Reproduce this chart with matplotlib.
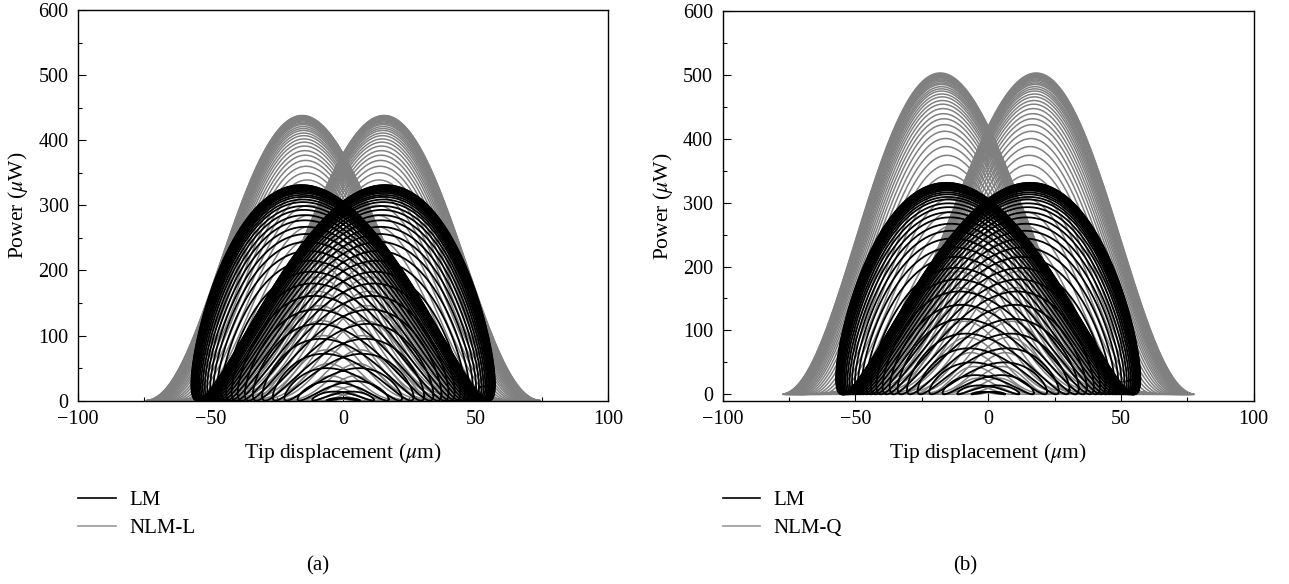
import numpy as np
import matplotlib
matplotlib.use("Agg")
import matplotlib.pyplot as plt
from matplotlib.ticker import MultipleLocator

plt.rcParams["font.family"] = ["Liberation Serif", "DejaVu Serif"]
plt.rcParams["mathtext.fontset"] = "stix"
plt.rcParams["font.size"] = 14.5

# cycle-by-cycle amplitude (um) and peak power (uW) of the start-up transient
lm_amp = [6.3, 11.7, 17.2, 22.2, 26.6, 30.6, 34.1, 37.1, 39.8, 42.1, 44.2, 46.0,
          47.6, 49.0, 50.2, 51.3, 52.2, 53.0, 53.7, 54.3, 54.8, 55.2, 55.5, 55.8,
          56.0, 56.2, 56.4, 56.5, 56.6, 56.7, 56.8, 56.9, 57.0, 57.1, 57.2, 57.3]
lm_peak = [4, 14, 30, 50, 72, 95, 118, 140, 161, 180, 198, 215,
           230, 244, 256, 267, 277, 285, 293, 299, 305, 309, 313, 316,
           319, 321, 323, 324, 325, 326, 327, 328, 329, 330, 331, 331]

nlml_amp = [6.1, 11.2, 16.6, 21.8, 26.7, 31.3, 35.4, 39.3, 42.8, 45.9, 48.8, 51.4,
            53.8, 56.0, 57.9, 59.8, 61.3, 62.7, 64.0, 65.2, 66.2, 67.2, 68.0, 68.7,
            69.4, 70.0, 70.5, 71.0, 71.4, 71.8, 72.1, 72.4, 72.6, 72.9, 73.1, 73.2,
            73.4, 73.5, 73.6, 73.7, 73.8, 73.9, 74.0, 74.1, 74.2, 74.3, 74.4]
nlml_peak = [3, 10, 22, 38, 57, 78, 100, 123, 146, 168, 190, 211,
             231, 250, 268, 285, 300, 314, 327, 339, 350, 360, 369, 377,
             384, 391, 397, 402, 407, 411, 415, 418, 421, 424, 426, 428,
             429.5, 431, 432, 433, 434, 435, 436, 436.5, 437, 437.5, 438]

nlmq_amp = [6.3, 11.7, 17.3, 22.7, 27.8, 32.6, 36.8, 40.9, 44.5, 47.8, 50.8, 53.5,
            56.0, 58.3, 60.2, 62.2, 63.8, 65.2, 66.6, 67.8, 68.9, 69.9, 70.8, 71.5,
            72.2, 72.8, 73.4, 73.9, 74.3, 74.7, 75.0, 75.3, 75.5, 75.9, 76.1, 76.2,
            76.4, 76.5, 76.7, 76.8, 76.9, 77.0, 77.1, 77.2, 77.3, 77.4]
nlmq_peak = [3.4, 11.4, 25.2, 43.5, 65.2, 89.2, 114.4, 140.7, 167.0, 192.2, 217.4, 241.4,
             264.3, 286.0, 306.6, 326.0, 343.2, 359.2, 374.1, 387.8, 400.4, 411.8, 422.1, 431.3,
             439.3, 447.3, 454.2, 459.9, 465.6, 470.2, 474.8, 478.2, 481.6, 485.1, 487.3, 489.6,
             491.9, 493.6, 495.4, 496.5, 497.6, 498.8, 500.0, 501.0, 502.0, 503.0]

# phase lag of power behind displacement (deg) and shape exponent per model
LM_LAG, LM_EXP = 16.0, 2.0
NLML_LAG, NLML_EXP = 12.0, 6.5
NLMQ_LAG, NLMQ_EXP = 13.5, 6.5


def cycle(amp, peak, lag, expo):
    th = np.linspace(0, 2 * np.pi, 721)
    x = amp * np.cos(th)
    p = peak * np.abs(np.sin(th - np.radians(lag))) ** expo
    return x, p


def draw_panel(ax, nl_amp, nl_peak, nl_lag, nl_exp, nl_label, ymin):
    for a, pk in zip(nl_amp, nl_peak):
        x, p = cycle(a, pk, nl_lag, nl_exp)
        ax.plot(x, p, color="#808080", lw=1.1)
    for a, pk in zip(lm_amp, lm_peak):
        x, p = cycle(a, pk, LM_LAG, LM_EXP)
        ax.plot(x, p, color="black", lw=1.3)

    ax.set_xlim(-100, 100)
    ax.set_ylim(ymin, 600)
    ax.xaxis.set_major_locator(MultipleLocator(50))
    ax.xaxis.set_minor_locator(MultipleLocator(25))
    ax.yaxis.set_major_locator(MultipleLocator(100))
    ax.yaxis.set_minor_locator(MultipleLocator(50))
    ax.tick_params(which="both", direction="in", width=0.8, pad=7)
    ax.tick_params(which="major", length=5.5)
    ax.tick_params(which="minor", length=3)
    for s in ax.spines.values():
        s.set_linewidth(1.0)
    ax.set_xlabel(r"Tip displacement ($\mu$m)", fontsize=15.5, labelpad=8)
    ax.set_ylabel(r"Power ($\mu$W)", fontsize=15.5, labelpad=6)

    h1, = ax.plot([], [], color="black", lw=1.2, label="LM")
    h2, = ax.plot([], [], color="#999999", lw=1.2, label=nl_label)
    ax.legend(handles=[h1, h2], loc="upper left", bbox_to_anchor=(0, -0.23),
              frameon=False, borderpad=0, borderaxespad=0, handlelength=1.8,
              handletextpad=0.65, labelspacing=0.4, fontsize=15)


fig = plt.figure(figsize=(12.89, 5.84), dpi=100)
ax1 = fig.add_axes([0.0607, 0.3139, 0.4110, 0.6690])
ax2 = fig.add_axes([0.5607, 0.3139, 0.4119, 0.6672])

draw_panel(ax1, nlml_amp, nlml_peak, NLML_LAG, NLML_EXP, "NLM-L", 0)
draw_panel(ax2, nlmq_amp, nlmq_peak, NLMQ_LAG, NLMQ_EXP, "NLM-Q", -10)

fig.text(318 / 1289, 1 - 566 / 584, "(a)", ha="center", va="center", fontsize=15)
fig.text(965 / 1289, 1 - 566 / 584, "(b)", ha="center", va="center", fontsize=15)

fig.savefig("out.png", dpi=100)
